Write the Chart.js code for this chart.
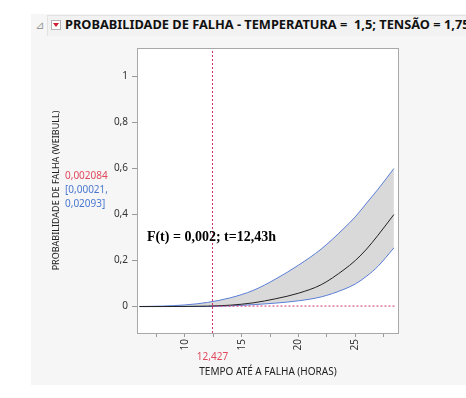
<!DOCTYPE html>
<html>
<head>
<meta charset="utf-8">
<script src="https://cdn.jsdelivr.net/npm/chart.js@4/dist/chart.umd.min.js"></script>
<style>
  html, body { margin: 0; padding: 0; background: #ffffff; width: 466px; height: 398px; overflow: hidden; }
  #painel { position: absolute; left: 31px; top: 14px; width: 435px; height: 371px; background: #f6f6f6; }
  #barra { position: absolute; left: 16px; top: 1px; width: 430px; height: 20px; background: #f2f2f2;
           border-top: 1px solid #e2e2e2; border-left: 1px solid #e2e2e2; }
  #tri { position: absolute; left: 5px; top: 5px; font: 11px "DejaVu Sans"; color: #999; line-height: 11px; }
  #botao { position: absolute; left: 20px; top: 5px; width: 10px; height: 10px; border: 1px solid #b5b5b5;
           background: #fff; box-sizing: border-box; }
  #botao:after { content: ""; position: absolute; left: 1px; top: 2px; border-left: 3px solid transparent;
                 border-right: 3px solid transparent; border-top: 4px solid #d02030; }
  #titulo { position: absolute; white-space: nowrap; font: bold 12.8px "Noto Sans", sans-serif;
            color: #111; line-height: 14px; }
  #area { position: absolute; left: 31px; top: 38px; width: 435px; height: 347px; }
</style>
</head>
<body>
<div id="painel">
  <div id="barra"></div>
</div>
<div id="tri" style="position:absolute;left:35px;top:20px;">⊿</div>
<div id="botao" style="position:absolute;left:51px;top:20px;"></div>
<div id="titulo" style="left:65px;top:17px;">PROBABILIDADE DE FALHA - TEMPERATURA =&nbsp; 1,5; TENSÃO = 1,75</div>
<div id="area"><canvas id="chart" width="435" height="347"></canvas></div>
<script>
// dados
const tempoHoras = [6, 8, 10, 12, 14, 16, 18, 20, 22, 24, 25, 26, 27, 28.4];
const probEstimada = [0, 0.0001, 0.0005, 0.0018, 0.006, 0.016, 0.034, 0.058, 0.095, 0.16, 0.20, 0.25, 0.31, 0.40];
const limiteSuperior = [0.0003, 0.002, 0.007, 0.018, 0.038, 0.07, 0.12, 0.18, 0.25, 0.34, 0.39, 0.45, 0.51, 0.60];
const limiteInferior = [0, 0, 0.0001, 0.0005, 0.003, 0.008, 0.015, 0.025, 0.042, 0.075, 0.098, 0.132, 0.175, 0.255];
const yTicks = [0, 0.2, 0.4, 0.6, 0.8, 1];
const xTicks = [7.5, 10, 12.5, 15, 17.5, 20, 22.5, 25, 27.5];
const tempoFalha = 12.427;
const probFalha = 0.002084;
const icFalha = ['0,00021', '0,02093'];
const xMin = 5.78, xMax = 28.85, yMin = -0.115, yMax = 1.124;

const pontos = arr => tempoHoras.map((t, i) => ({ x: t, y: arr[i] }));
const corLinhaRef = '#d0306a';
const azul = '#5a7fd8';

const textos = {
    id: 'textos',
    beforeDraw(chart) {
        const { ctx, chartArea: a } = chart;
        ctx.save();
        ctx.fillStyle = '#ffffff';
        ctx.fillRect(a.left, a.top, a.right - a.left, a.bottom - a.top);
        ctx.restore();
    },
    afterDraw(chart) {
        const { ctx, chartArea: a, scales } = chart;
        ctx.save();
        ctx.strokeStyle = '#a8a8a8';
        ctx.lineWidth = 1;
        ctx.strokeRect(a.left + 0.5, a.top + 0.5, a.right - a.left - 1, a.bottom - a.top);

        ctx.font = 'bold 14px "Liberation Serif"';
        ctx.fillStyle = '#000';
        ctx.textBaseline = 'middle';
        ctx.textAlign = 'left';
        ctx.fillText('F(t) = 0,002; t=12,43h', scales.x.getPixelForValue(6.65), scales.y.getPixelForValue(0.3));

        ctx.font = '10px "Noto Sans"';
        ctx.fillStyle = '#e04a5e';
        ctx.textAlign = 'center';
        ctx.fillText('12,427', scales.x.getPixelForValue(tempoFalha), 319);

        const meio = (a.top + a.bottom) / 2;
        ctx.textAlign = 'left';
        ctx.fillText(String(probFalha).replace('.', ','), 34, meio - 14);
        ctx.fillStyle = '#4a78d0';
        ctx.fillText('[' + icFalha[0] + ',', 34, meio);
        ctx.fillText(icFalha[1] + ']', 34, meio + 14);
        ctx.restore();
    }
};

new Chart(document.getElementById('chart'), {
    type: 'line',
    data: {
        datasets: [
            {
                label: 'inferior',
                data: pontos(limiteInferior),
                borderColor: azul,
                borderWidth: 1,
                pointRadius: 0,
                fill: false,
                order: 2,
                cubicInterpolationMode: 'monotone'
            },
            {
                label: 'superior',
                data: pontos(limiteSuperior),
                borderColor: azul,
                borderWidth: 1,
                pointRadius: 0,
                backgroundColor: '#d9d9d9',
                fill: '-1',
                order: 2,
                cubicInterpolationMode: 'monotone'
            },
            {
                label: 'estimada',
                data: pontos(probEstimada),
                borderColor: '#222',
                borderWidth: 1,
                pointRadius: 0,
                fill: false,
                order: 1,
                cubicInterpolationMode: 'monotone'
            },
            {
                label: 'horizontal',
                data: [{ x: tempoFalha, y: probFalha }, { x: 28.5, y: probFalha }],
                borderColor: corLinhaRef,
                borderWidth: 1,
                borderDash: [2, 2],
                pointRadius: 0,
                fill: false,
                order: 0
            },
            {
                label: 'vertical',
                data: [{ x: tempoFalha, y: yMin }, { x: tempoFalha, y: yMax }],
                borderColor: corLinhaRef,
                borderWidth: 1,
                borderDash: [2, 2],
                pointRadius: 0,
                fill: false,
                order: 0
            }
        ]
    },
    options: {
        responsive: false,
        animation: false,
        layout: { padding: { top: 6, right: 67, bottom: 6, left: 0 } },
        plugins: { legend: { display: false }, tooltip: { enabled: false } },
        scales: {
            x: {
                type: 'linear',
                min: xMin,
                max: xMax,
                afterBuildTicks: s => { s.ticks = xTicks.map(v => ({ value: v })); },
                afterFit: s => { s.height = 46; },
                grid: { drawOnChartArea: false, drawTicks: true, tickLength: 4, color: '#999' },
                border: { display: false },
                ticks: {
                    autoSkip: false,
                    minRotation: 90,
                    maxRotation: 90,
                    padding: 2,
                    color: '#333',
                    font: { family: 'Noto Sans', size: 10 },
                    callback: v => (v % 5 === 0 ? String(v) : '')
                },
                title: {
                    display: true,
                    text: 'TEMPO ATÉ A FALHA (HORAS)',
                    color: '#222',
                    font: { family: 'Noto Sans', size: 10 },
                    padding: { top: 0, bottom: 1 }
                }
            },
            y: {
                type: 'linear',
                min: yMin,
                max: yMax,
                afterBuildTicks: s => { s.ticks = yTicks.map(v => ({ value: v })); },
                afterFit: s => { s.width = 106; },
                grid: { drawOnChartArea: false, drawTicks: true, tickLength: 5, color: '#999' },
                border: { display: false },
                ticks: {
                    padding: 4,
                    color: '#333',
                    font: { family: 'Noto Sans', size: 10 },
                    callback: v => String(+v.toFixed(1)).replace('.', ',')
                },
                title: {
                    display: true,
                    text: 'PROBABILIDADE DE FALHA (WEIBULL)',
                    color: '#222',
                    font: { family: 'Noto Sans', size: 9 },
                    padding: { top: 20, bottom: 0 }
                }
            }
        }
    },
    plugins: [textos]
});
</script>
</body>
</html>
